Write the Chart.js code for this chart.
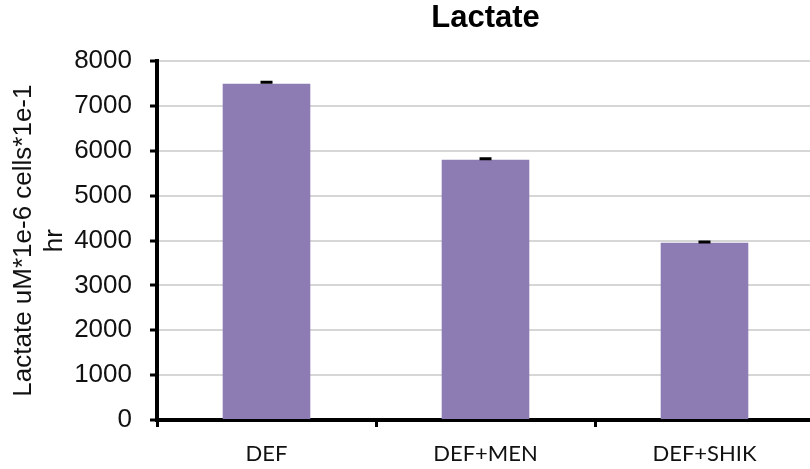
<!DOCTYPE html>
<html><head><meta charset="utf-8">
<script src="https://cdn.jsdelivr.net/npm/chart.js@4"></script>
<style>html,body{margin:0;padding:0;overflow:hidden;background:#fff}canvas{display:block}</style>
</head><body>
<canvas id="c" width="816" height="469"></canvas>
<script>
const categories = ['DEF', 'DEF+MEN', 'DEF+SHIK'];
const lactate = [7500, 5800, 3950];
const errors = [30, 25, 20];
const yTicks = [0, 1000, 2000, 3000, 4000, 5000, 6000, 7000, 8000];
const chartTitle = 'Lactate';
const yTitle = ['Lactate uM*1e-6 cells*1e-1', 'hr'];

const errorBars = {
  id: 'errorBars',
  afterDatasetsDraw(chart) {
    const ctx = chart.ctx;
    const meta = chart.getDatasetMeta(0);
    const y = chart.scales.y;
    ctx.save();
    ctx.strokeStyle = '#000';
    ctx.lineWidth = 3;
    meta.data.forEach((bar, i) => {
      const v = lactate[i], e = errors[i];
      const yt = y.getPixelForValue(v + e);
      const yb = y.getPixelForValue(v);
      ctx.beginPath();
      ctx.moveTo(bar.x, yb); ctx.lineTo(bar.x, yt);
      ctx.moveTo(bar.x - 6, yt); ctx.lineTo(bar.x + 6, yt);
      ctx.stroke();
    });
    ctx.restore();
  }
};

new Chart(document.getElementById('c'), {
  type: 'bar',
  data: {
    labels: categories,
    datasets: [{ data: lactate, backgroundColor: '#8D7BB3', borderWidth: 0,
      categoryPercentage: 1, barPercentage: 0.4 }]
  },
  options: {
    responsive: false,
    animation: false,
    layout: { padding: { left: 0, right: 2, top: 0, bottom: 0 } },
    plugins: {
      legend: { display: false },
      tooltip: { enabled: false },
      title: { display: true, text: chartTitle, fullSize: false, color: '#000',
        font: { family: 'Liberation Sans', size: 31, weight: 'bold' },
        padding: { top: 0, bottom: 24 } }
    },
    scales: {
      x: {
        grid: { drawOnChartArea: false, tickColor: '#000', tickWidth: 3, tickLength: 7 },
        border: { color: '#000', width: 4 },
        ticks: { color: '#111', padding: 14, font: { family: 'Lato', size: 22 } },
        afterFit: s => { s.height = 49; }
      },
      y: {
        min: 0, max: 8000,
        afterBuildTicks: s => { s.ticks = yTicks.map(v => ({ value: v })); },
        grid: { color: '#d6d6d6', lineWidth: 2, tickColor: '#000', tickWidth: 3, tickLength: 7 },
        border: { color: '#000', width: 4 },
        ticks: { color: '#111', padding: 18, font: { family: 'Liberation Sans', size: 26 },
          callback: v => String(v) },
        title: { display: true, text: yTitle, color: '#111', padding: { top: 8, bottom: 0 },
          font: { family: 'Liberation Sans', size: 26, lineHeight: 1.2 } },
        afterFit: s => { s.width = 157; }
      }
    }
  },
  plugins: [errorBars]
});
</script>
</body></html>
